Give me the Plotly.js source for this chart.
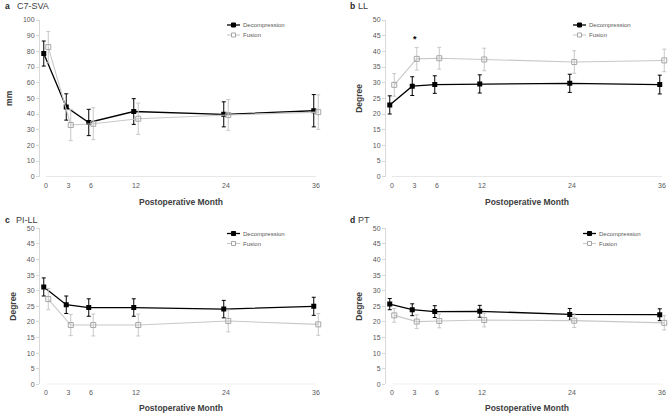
<!DOCTYPE html>
<html><head><meta charset="utf-8">
<script src="https://cdn.plot.ly/plotly-3.0.1.min.js"></script>
<style>html,body{margin:0;padding:0;background:#fff}#chart{width:669px;height:413px}</style>
</head><body><div id="chart"></div>
<script>
// ---- data ----
const months = [0, 3, 6, 12, 24, 36];
const tickLabels = ['0', '3', '6', '12', '24', '36'];
const seriesNames = ['Decompression', 'Fusion'];
const panelLetters = ['a', 'b', 'c', 'd'];
const panelTitles = ['C7-SVA', 'LL', 'PI-LL', 'PT'];
const yTitles = ['mm', 'Degree', 'Degree', 'Degree'];
const xTitle = 'Postoperative Month';
const yMax = [100, 50, 50, 50];
const yStep = [10, 5, 5, 5];

const svaDecomp    = [78.6, 44.5, 34.6, 41.6, 39.8, 42.1];
const svaDecompErr = [8.0, 8.4, 8.4, 8.2, 8.0, 10.3];
const svaFusion    = [82.7, 33.0, 33.8, 37.0, 39.4, 41.2];
const svaFusionErr = [10.0, 10.0, 10.2, 10.0, 9.8, 11.0];

const llDecomp    = [22.9, 28.9, 29.4, 29.6, 29.8, 29.4];
const llDecompErr = [2.9, 3.0, 2.8, 2.9, 2.9, 3.0];
const llFusion    = [29.3, 37.6, 37.8, 37.4, 36.6, 37.1];
const llFusionErr = [3.6, 3.6, 3.5, 3.6, 3.6, 3.6];

const pillDecomp    = [31.2, 25.5, 24.6, 24.6, 24.1, 25.0];
const pillDecompErr = [2.9, 2.8, 2.8, 2.8, 2.8, 2.9];
const pillFusion    = [27.3, 19.0, 19.0, 19.0, 20.3, 19.2];
const pillFusionErr = [3.4, 3.4, 3.5, 3.5, 3.5, 3.5];

const ptDecomp    = [25.7, 23.9, 23.3, 23.4, 22.4, 22.3];
const ptDecompErr = [1.8, 1.9, 1.9, 1.9, 1.9, 1.9];
const ptFusion    = [22.1, 20.1, 20.3, 20.6, 20.4, 19.7];
const ptFusionErr = [2.2, 2.2, 2.2, 2.2, 2.2, 2.3];

const sigPanel = 1;        // panel b
const sigMonthIndex = 1;   // month 3 significant
// ---- end data ----

const W = 669, H = 413;
const panels = [
  {d: svaDecomp, de: svaDecompErr, f: svaFusion, fe: svaFusionErr},
  {d: llDecomp, de: llDecompErr, f: llFusion, fe: llFusionErr},
  {d: pillDecomp, de: pillDecompErr, f: pillFusion, fe: pillFusionErr},
  {d: ptDecomp, de: ptDecompErr, f: ptFusion, fe: ptFusionErr}
];
// pixel geometry of each panel plot area: [left, right, top, bottom]
const geo = [
  [40, 322, 20, 176.7],
  [386, 668, 20, 176.7],
  [40, 322, 228.3, 384.3],
  [386, 668, 228.3, 384.3]
];
// legend key: [x start, y of first row]
const legendPos = [[227, 25], [573, 25], [227, 233.5], [583, 233.5]];
const legendRow = 10;
const letterPos = [[3, 6, 15], [348, 6, 356], [3, 220, 13.5], [348, 220, 356]];
const dOff = -0.3, fOff = 0.3;
const FONT = 'Liberation Sans, Arial, sans-serif';
const styles = [
  {line: '#000', lw: 1.3, mfill: '#000', mline: '#000'},
  {line: '#c8c8c8', lw: 1.1, mfill: '#fff', mline: '#a6a6a6'}
];

const traces = [];
const layout = {
  width: W, height: H,
  margin: {l: 0, r: 0, t: 0, b: 0},
  paper_bgcolor: '#fff', plot_bgcolor: '#fff',
  font: {family: FONT, color: '#595959'},
  showlegend: false,
  annotations: [], shapes: []
};

panels.forEach((p, i) => {
  const n = i === 0 ? '' : String(i + 1);
  const xa = 'x' + n, ya = 'y' + n;
  traces.push({
    x: months.map(m => m + dOff), y: p.d, xaxis: xa, yaxis: ya,
    type: 'scatter', mode: 'lines+markers', name: seriesNames[0],
    line: {color: styles[0].line, width: styles[0].lw},
    marker: {symbol: 'square', size: 5, color: '#000'},
    error_y: {type: 'data', array: p.de, visible: true, color: '#000', thickness: 1, width: 2}
  });
  traces.push({
    x: months.map(m => m + fOff), y: p.f, xaxis: xa, yaxis: ya,
    type: 'scatter', mode: 'lines+markers', name: seriesNames[1],
    line: {color: styles[1].line, width: styles[1].lw},
    marker: {symbol: 'square-open', size: 5, color: '#a6a6a6', line: {width: 1}},
    error_y: {type: 'data', array: p.fe, visible: true, color: '#c8c8c8', thickness: 1, width: 2}
  });
  const g = geo[i];
  const xr = [-0.8, 36.8];
  layout['xaxis' + n] = {
    domain: [g[0] / W, g[1] / W], anchor: ya, range: xr,
    tickmode: 'array', tickvals: months, ticktext: tickLabels,
    showline: false, showgrid: false, zeroline: false, ticks: '',
    tickfont: {size: 7, color: '#595959', family: FONT},
    ticklabelstandoff: 3,
    title: {text: '<b>' + xTitle + '</b>', font: {size: 8.5, color: '#404040', family: FONT}, standoff: 11}
  };
  layout['yaxis' + n] = {
    domain: [1 - g[3] / H, 1 - g[2] / H], anchor: xa, range: [0, yMax[i]], dtick: yStep[i],
    showline: true, linecolor: '#d9d9d9', linewidth: 1, ticks: 'outside', ticklen: 3, tickcolor: '#d9d9d9',
    showgrid: false, zeroline: false,
    tickfont: {size: 7, color: '#595959', family: FONT},
    title: {text: '<b>' + yTitles[i] + '</b>', font: {size: 8.5, color: '#404040', family: FONT}, standoff: 8}
  };
  // x axis baseline spanning the month range
  layout.shapes.push({type: 'line', xref: xa, yref: ya, x0: months[0], x1: months[months.length - 1], y0: 0, y1: 0,
    line: {color: '#d9d9d9', width: 1}});
  // legend (key + label)
  const lp = legendPos[i];
  seriesNames.forEach((nm, k) => {
    const s = styles[k];
    const yy = lp[1] + k * legendRow;
    const py = 1 - yy / H;
    layout.shapes.push({type: 'line', xref: 'paper', yref: 'paper', x0: lp[0] / W, x1: (lp[0] + 13) / W, y0: py, y1: py,
      line: {color: s.line, width: s.lw}});
    layout.shapes.push({type: 'rect', xref: 'paper', yref: 'paper',
      x0: (lp[0] + 4.5) / W, x1: (lp[0] + 8.5) / W, y0: 1 - (yy + 2) / H, y1: 1 - (yy - 2) / H,
      fillcolor: s.mfill, line: {color: s.mline, width: 1}});
    layout.annotations.push({xref: 'paper', yref: 'paper', x: (lp[0] + 14) / W, y: py, xanchor: 'left', yanchor: 'middle',
      text: nm, showarrow: false, font: {size: 6, color: '#595959', family: FONT}});
  });
  const lt = letterPos[i];
  layout.annotations.push({xref: 'paper', yref: 'paper', x: lt[0] / W, y: 1 - lt[1] / H, xanchor: 'left', yanchor: 'middle',
    text: '<b>' + panelLetters[i] + '</b>', showarrow: false, font: {size: 8.5, color: '#262626', family: FONT}});
  layout.annotations.push({xref: 'paper', yref: 'paper', x: lt[2] / W, y: 1 - lt[1] / H, xanchor: 'left', yanchor: 'middle',
    text: panelTitles[i], showarrow: false, font: {size: 9, color: '#404040', family: FONT}});
});

// significance marker
{
  const p = panels[sigPanel];
  const n = String(sigPanel + 1);
  layout.annotations.push({xref: 'x' + n, yref: 'y' + n, x: months[sigMonthIndex],
    y: p.f[sigMonthIndex] + p.fe[sigMonthIndex] + 2.6, text: '<b>*</b>', showarrow: false,
    font: {size: 9, color: '#000', family: FONT}, yanchor: 'middle'});
}

Plotly.newPlot('chart', traces, layout, {staticPlot: true, displayModeBar: false});
</script>
</body></html>
